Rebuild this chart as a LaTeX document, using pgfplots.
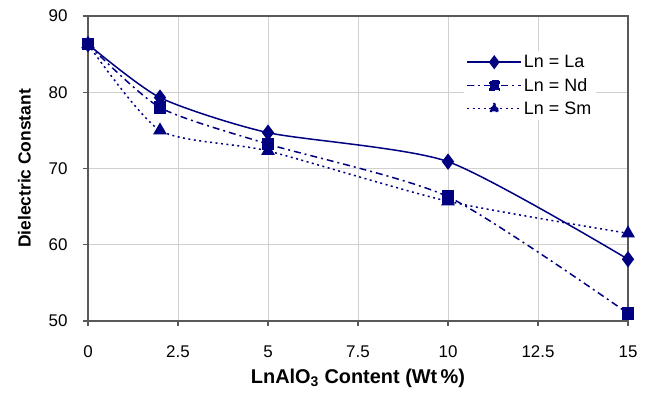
\documentclass[border=0pt]{standalone}
\usepackage{pgfplots}
\pgfplotsset{compat=1.18}
\usepackage{fontspec}
\setmainfont{Liberation Sans}
\definecolor{navy}{RGB}{0,0,128}
\begin{document}
\begin{tikzpicture}[x=1bp,y=1bp]
\begin{axis}[
  scale only axis,
  width=540bp, height=305bp,
  xmin=0, xmax=15, ymin=50, ymax=90,
  xtick={0,2.5,5,7.5,10,12.5,15},
  xticklabels={0,2.5,5,7.5,10,12.5,15},
  ytick={50,60,70,80,90},
  grid=major,
  major grid style={draw=black!18, line width=1pt},
  axis line style={draw=black!65, line width=1.2pt},
  tick style={draw=black!65, line width=1.2pt},
  tick align=outside,
  major tick length=5bp,
  xtick pos=bottom, ytick pos=left,
  /pgf/number format/assume math mode=true,
  tick label style={font=\fontsize{17}{19}\selectfont},
  xticklabel style={yshift=-16bp},
  yticklabel style={xshift=-12bp},
  xlabel={\textbf{LnAlO\textsubscript{3} Content (Wt\,\%)}},
  ylabel={\textbf{Dielectric Constant}},
  xlabel style={font=\fontsize{20}{22}\selectfont, yshift=-5bp},
  ylabel style={font=\fontsize{17.5}{19}\selectfont, yshift=11bp},
  legend style={at={(0.695,0.885)}, anchor=north west, draw=none, fill=white,
    font=\fontsize{18}{20}\selectfont, row sep=5bp, inner xsep=3bp, inner ysep=2bp},
  legend cell align=left,
  legend image code/.code={\draw[mark repeat=2,mark phase=2,#1,mark options={scale=0.85}] plot coordinates {(0bp,0bp) (27bp,0bp) (54bp,0bp)};},
  every axis plot/.append style={navy, line width=1.5pt, smooth, tension=0.4},
]
\addplot[mark=diamond*, mark size=7pt, solid, mark options={solid}] coordinates {(0,86.3) (2,79.3) (5,74.7) (10,70.9) (15,58.1)};
\addlegendentry{Ln = La}
\addplot[mark=square*, mark size=5.5pt, dash pattern=on 7pt off 4pt on 2pt off 4pt, mark options={solid}] coordinates {(0,86.3) (2,78.0) (5,73.2) (10,66.3) (15,51.0)};
\addlegendentry{Ln = Nd}
\addplot[mark=triangle*, mark size=6.5pt, dash pattern=on 2pt off 3.5pt, mark options={solid}] coordinates {(0,86.3) (2,75.0) (5,72.3) (10,65.7) (15,61.5)};
\addlegendentry{Ln = Sm}
\end{axis}
\path (current axis.south west) ++(-88bp,-78bp) coordinate (bl);
\path (current axis.north east) ++(24bp,16bp) coordinate (tr);
\useasboundingbox (bl) rectangle (tr);
\end{tikzpicture}
\end{document}
